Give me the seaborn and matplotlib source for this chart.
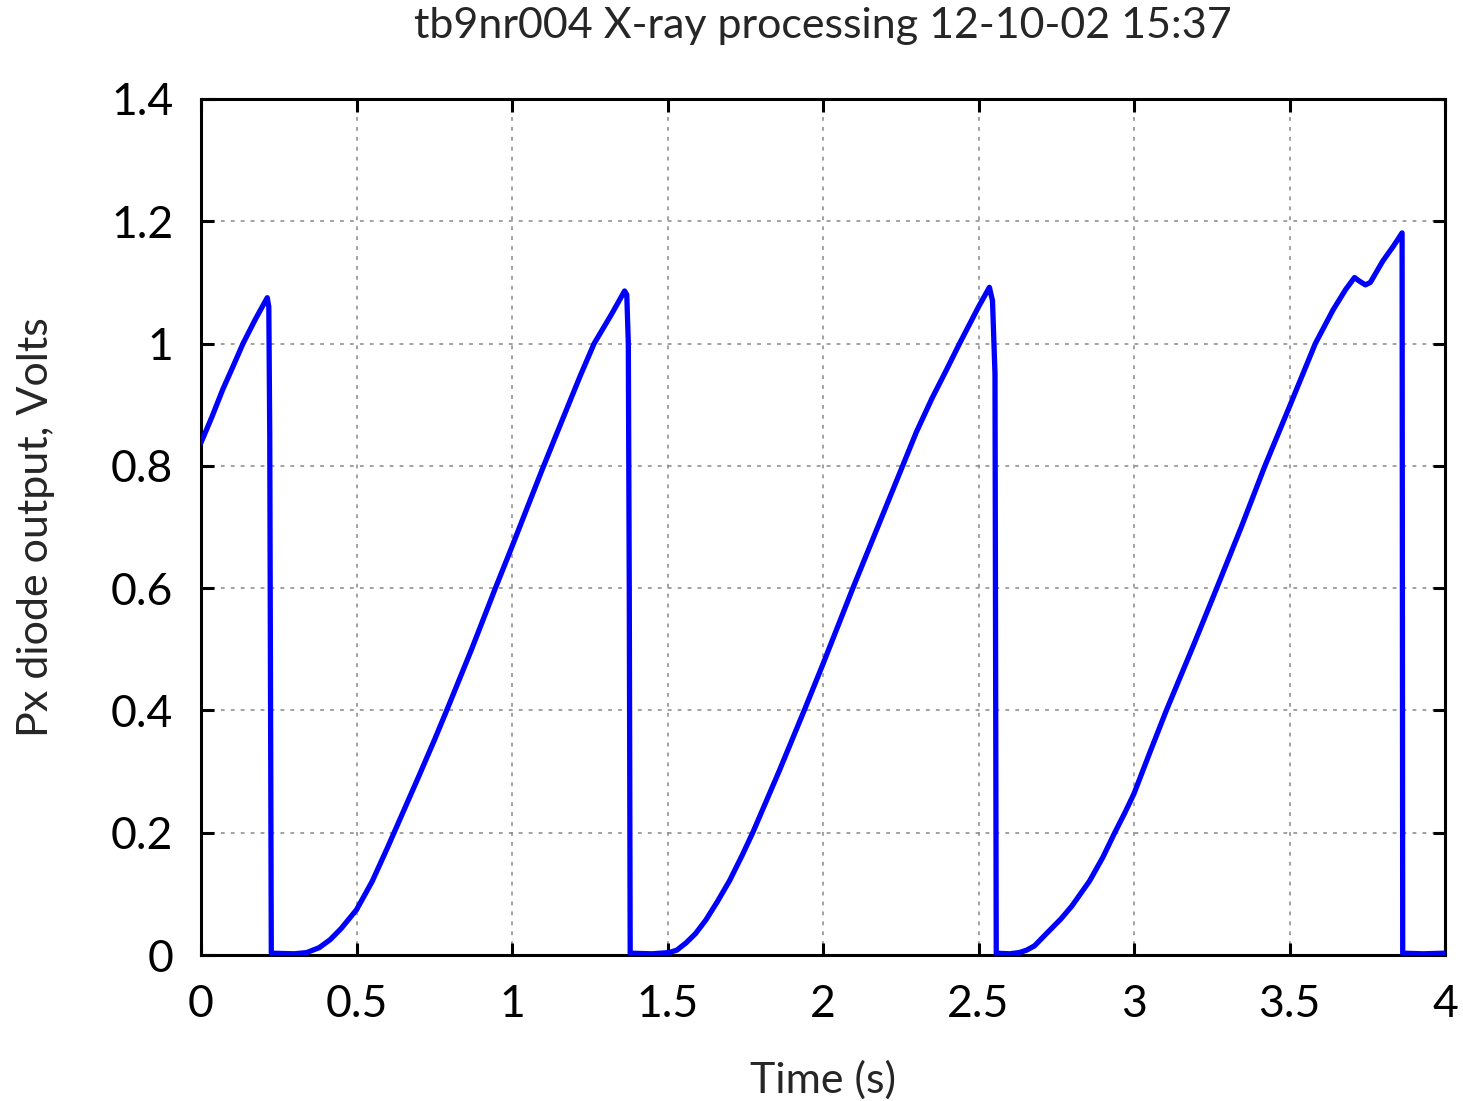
import numpy as np
import pandas as pd
import matplotlib
matplotlib.use("Agg")
import matplotlib.pyplot as plt
import matplotlib.ticker as plticker
import seaborn as sns

# Px diode trace (time in s, output in V)
time_s = [
    0.000, 0.035, 0.070, 0.105, 0.135, 0.175, 0.213, 0.218, 0.221, 0.226,
    0.300, 0.340, 0.380, 0.415, 0.450, 0.500, 0.550, 0.600, 0.650, 0.700,
    0.750, 0.790, 0.870, 0.945, 1.000, 1.050, 1.094, 1.140, 1.180, 1.220,
    1.264, 1.320, 1.362, 1.369, 1.374, 1.377, 1.380,
    1.450, 1.505, 1.530, 1.560, 1.590, 1.623, 1.660, 1.700, 1.740, 1.774,
    1.860, 1.942, 2.000, 2.096, 2.180, 2.256, 2.300, 2.350, 2.395, 2.439,
    2.500, 2.535, 2.545, 2.553, 2.557,
    2.600, 2.631, 2.655, 2.680, 2.728, 2.765, 2.800, 2.857, 2.900, 2.938,
    2.970, 3.000, 3.050, 3.104, 3.190, 3.266, 3.345, 3.421, 3.500, 3.583,
    3.640, 3.680, 3.709, 3.725, 3.744, 3.760, 3.800, 3.835, 3.862, 3.864,
    3.930, 4.000,
]
volts = [
    0.838, 0.880, 0.925, 0.965, 1.000, 1.040, 1.075, 1.060, 0.850, 0.003,
    0.002, 0.004, 0.012, 0.025, 0.043, 0.074, 0.120, 0.176, 0.234, 0.292,
    0.351, 0.400, 0.500, 0.598, 0.668, 0.733, 0.790, 0.848, 0.898, 0.948,
    1.000, 1.048, 1.086, 1.080, 1.000, 0.600, 0.003,
    0.002, 0.004, 0.008, 0.020, 0.035, 0.057, 0.087, 0.122, 0.163, 0.200,
    0.302, 0.403, 0.476, 0.600, 0.705, 0.800, 0.855, 0.910, 0.955, 1.000,
    1.060, 1.092, 1.070, 0.950, 0.003,
    0.002, 0.004, 0.008, 0.015, 0.040, 0.059, 0.080, 0.121, 0.160, 0.200,
    0.232, 0.264, 0.330, 0.400, 0.505, 0.600, 0.700, 0.800, 0.897, 1.000,
    1.055, 1.088, 1.108, 1.102, 1.096, 1.100, 1.135, 1.160, 1.181, 0.003,
    0.002, 0.003,
]

x_ticks = [0, 0.5, 1, 1.5, 2, 2.5, 3, 3.5, 4]
y_ticks = [0, 0.2, 0.4, 0.6, 0.8, 1, 1.2, 1.4]

df = pd.DataFrame({"time": time_s, "volts": volts})

sns.set_theme(style="white")
plt.rcParams['font.family'] = ['Lato', 'DejaVu Sans']

fig = plt.figure(figsize=(14.63, 11.01), dpi=100)
ax = fig.add_axes([0.1374, 0.1326, 0.8503, 0.7775])

sns.lineplot(data=df, x="time", y="volts", sort=False, estimator=None,
             color="#0000ff", linewidth=3.8, ax=ax, zorder=3)

ax.set_xlim(0, 4)
ax.set_ylim(0, 1.4)
ax.set_xticks(x_ticks)
ax.set_yticks(y_ticks)
ax.xaxis.set_major_formatter(plticker.FormatStrFormatter('%g'))
ax.yaxis.set_major_formatter(plticker.FormatStrFormatter('%g'))

ax.grid(True, color="#888888", linewidth=1.1, linestyle=(0, (2.5, 4)))
ax.set_axisbelow(True)

for s in ax.spines.values():
    s.set_visible(True)
    s.set_color("black")
    s.set_linewidth(2.2)

ax.tick_params(which="major", direction="in", length=9, width=2.2,
               top=True, right=True, bottom=True, left=True,
               labelsize=32, colors="black")
ax.tick_params(axis="x", pad=21)
ax.tick_params(axis="y", pad=20)

ax.set_title("tb9nr004 X-ray processing 12-10-02 15:37", fontsize=31, pad=44)
ax.set_xlabel("Time (s)", fontsize=31, labelpad=25)
ax.set_ylabel("Px diode output, Volts", fontsize=31, labelpad=40)

fig.savefig("out.png", dpi=100)
